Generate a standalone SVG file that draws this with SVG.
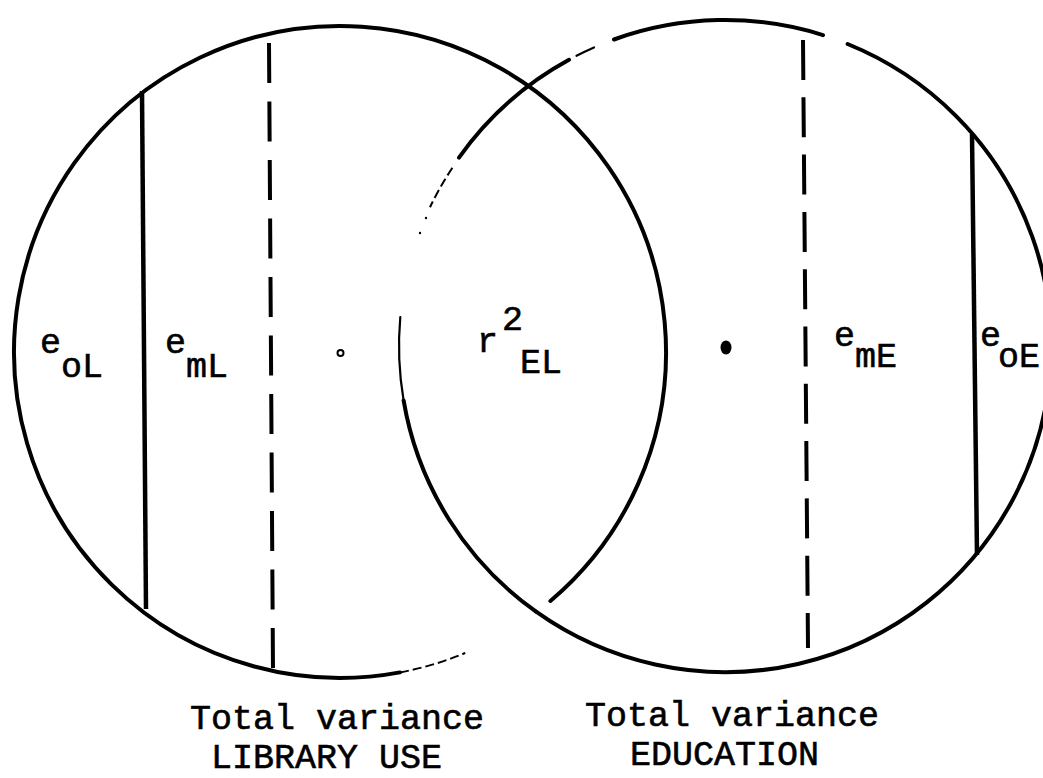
<svg xmlns="http://www.w3.org/2000/svg" width="1043" height="778" viewBox="0 0 1043 778">
<style>
.arc{fill:none;stroke:#000;stroke-width:4;stroke-linecap:round}
.thin{fill:none;stroke:#000;stroke-width:2.2;stroke-linecap:round}
.faded{fill:none;stroke:#000;stroke-width:2;stroke-dasharray:9 4}
.solid{stroke:#000;stroke-width:4.5}
.dashL{stroke:#000;stroke-width:4;stroke-dasharray:40 18.5}
.dashR{stroke:#000;stroke-width:4;stroke-dasharray:40 17.3}
text{font-family:"Liberation Mono","DejaVu Sans Mono",monospace;font-size:35px;fill:#000;stroke:#000;stroke-width:0.6}
</style>
<rect width="1043" height="778" fill="#fff"/>
<g id="circle-library-use">
  <path class="arc" d="M 550.4 601.0 A 326 326 0 1 0 400.0 672.4"/>
  <path class="faded" d="M 400.0 672.4 A 326 326 0 0 0 465.3 653.0"/>
  <circle cx="340.5" cy="353" r="3" fill="none" stroke="#000" stroke-width="2"/>
</g>
<g id="circle-education">
  <path class="arc" d="M 536.1 611.7 A 326 326 0 1 0 847.6 44.0"/>
  <path class="arc" d="M 823.0 35.1 A 326 326 0 0 0 614.0 39.5"/>
  <path class="thin" d="M 594.0 47.5 A 326 326 0 0 0 576.5 55.8"/>
  <path class="arc" d="M 569.0 59.8 A 326 326 0 0 0 459.0 157.6"/>
  <path class="faded" d="M 452.4 167.8 A 326 326 0 0 0 430.0 207.2"/>
  <circle cx="426" cy="218" r="1.2" fill="#000"/>
  <circle cx="420" cy="233" r="1.2" fill="#000"/>
  <path class="thin" d="M 400.3 317.0 A 326 326 0 0 0 403.6 400.4"/>
  <path class="arc" d="M 403.6 400.4 A 326 326 0 0 0 536.1 611.7"/>
  <ellipse cx="726" cy="347.5" rx="5.5" ry="7" fill="#000"/>
</g>
<g id="partitions">
  <line class="solid" x1="142" y1="91" x2="146" y2="609"/>
  <line class="dashL" x1="269" y1="43" x2="273" y2="672"/>
  <line class="dashR" x1="803" y1="40" x2="808" y2="648"/>
  <line class="solid" x1="972" y1="134" x2="977" y2="555"/>
</g>
<g id="label-eoL"><text x="40" y="353">e</text><text x="61" y="377">oL</text></g>
<g id="label-emL"><text x="165" y="353">e</text><text x="186" y="377">mL</text></g>
<g id="label-r2EL"><text x="477" y="352">r</text><text x="502" y="330">2</text><text x="520" y="373">EL</text></g>
<g id="label-emE"><text x="834" y="346">e</text><text x="855" y="367">mE</text></g>
<g id="label-eoE"><text x="980" y="346">e</text><text x="998" y="367">oE</text></g>
<g id="caption-library"><text x="190" y="729">Total variance</text><text x="211" y="768">LIBRARY USE</text></g>
<g id="caption-education"><text x="585" y="726">Total variance</text><text x="630" y="765">EDUCATION</text></g>
</svg>
